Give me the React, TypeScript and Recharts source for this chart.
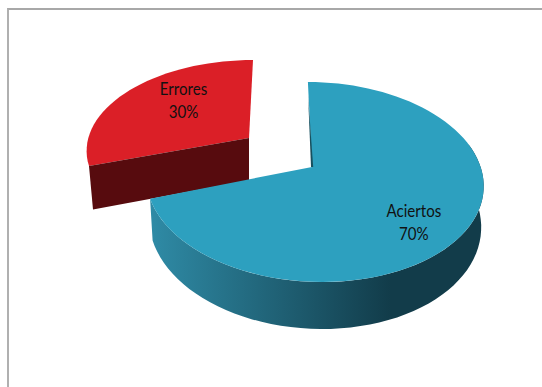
import { PieChart, Pie, Cell } from 'recharts';

const categories = ['Errores', 'Aciertos'];
const values = [30, 70];
const percentLabels = ['30%', '70%'];

const chartData = categories.map((name, i) => ({ name, value: values[i], percent: percentLabels[i] }));

// Per-slice look of the tilted disc. Radii are ratios of the pie's outerRadius.
const sliceStyles: Record<string, any> = {
  Errores: {
    dx: -63, dy: -29, rimDx: 0, rx: 0.945, ry: 0.513, persp: 0.118, skew: -4.5,
    depth: 42.5, depthSlope: 0.07, taper: 0.975,
    top: '#db1f27', wall: '#570b0e', label: [0.55, 0.77],
  },
  Aciertos: {
    dx: 0, dy: 0, rimDx: 2, rx: 0.98, ry: 0.575, persp: 0.15, skew: 7,
    depth: 39.5, depthSlope: 0.19, taper: 0.985,
    top: '#2da0bf', wall: 'url(#wallShade)', label: [0.66, 0.89],
  },
};

// Recharts angle -> point on the squashed rim, with a little perspective on the near side
const rimPoint = (cx: number, cy: number, r: number, st: any, deg: number) => {
  const a = (deg * Math.PI) / 180;
  const u = Math.cos(a);
  const v = -Math.sin(a);
  const s = 1 / (1 - st.persp * v);
  return {
    x: cx + st.dx + st.rimDx + (r * st.rx * u + st.skew * v) * s,
    y: cy + st.dy + r * st.ry * v * s,
    v,
  };
};

const arcPoints = (cx: number, cy: number, r: number, st: any, from: number, to: number) => {
  const steps = Math.max(2, Math.ceil(Math.abs(to - from) / 3));
  const pts = [];
  for (let i = 0; i <= steps; i++) pts.push(rimPoint(cx, cy, r, st, from + ((to - from) * i) / steps));
  return pts;
};

const toPath = (pts: { x: number; y: number }[]) =>
  pts.map((p, i) => `${i ? 'L' : 'M'}${p.x.toFixed(1)},${p.y.toFixed(1)}`).join(' ') + ' Z';

const lowered = (p: { x: number; y: number; v: number }, apexX: number, st: any) => ({
  x: apexX + (p.x - apexX) * st.taper,
  y: p.y + st.depth * (1 + st.depthSlope * p.v),
  v: p.v,
});

const Slice3D = (props: any) => {
  const { cx, cy, outerRadius, startAngle, endAngle, name, payload } = props;
  const st = sliceStyles[name ?? payload?.name];
  const apex = { x: cx + st.dx, y: cy + st.dy, v: 0 };
  const rim = arcPoints(cx, cy, outerRadius, st, startAngle, endAngle);

  if (st === sliceStyles.Errores) {
    // only the straight cut wall shows on this slice
    const first = rim[0];
    const last = rim[rim.length - 1];
    const cut = last.v > first.v ? last : first;
    const wall = [apex, cut, lowered(cut, apex.x, st), lowered(apex, apex.x, st)];
    return (
      <g>
        <path d={toPath([apex, ...rim])} fill={st.top} />
        <path d={toPath(wall)} fill={st.wall} />
      </g>
    );
  }

  // outer wall runs from the left end of the slice round the front to the right side
  const front = arcPoints(cx, cy, outerRadius, st, endAngle, 14);
  const wall = [...front, ...front.map((p) => lowered(p, apex.x + st.rimDx, st)).reverse()];
  const topEdge = rim[0];
  // dark edge of the cut running up from the centre
  const sliver = [
    { x: topEdge.x + 0.2, y: topEdge.y + 14, v: 0 },
    { x: apex.x - 1, y: apex.y, v: 0 },
    { x: apex.x + 1.2, y: apex.y, v: 0 },
  ];
  return (
    <g>
      <path d={toPath(wall)} fill={st.wall} />
      <path d={toPath([apex, ...rim])} fill={st.top} />
      <path d={toPath(sliver)} fill="#17505f" />
    </g>
  );
};

const SliceLabel = (props: any) => {
  const { cx, cy, outerRadius, midAngle, name, payload } = props;
  const st = sliceStyles[name ?? payload?.name];
  const p = rimPoint(cx, cy, outerRadius, st, midAngle);
  const apexX = cx + st.dx;
  const apexY = cy + st.dy;
  const x = apexX + (p.x - apexX) * st.label[0];
  const y = apexY + (p.y - apexY) * st.label[1];
  return (
    <text transform={`translate(${x} 0) scale(0.84 1)`} textAnchor="middle" fill="#111" fontFamily="Lato, sans-serif" fontSize={18}>
      <tspan x={0} y={y - 6}>{name ?? payload?.name}</tspan>
      <tspan x={0} y={y + 17}>{payload?.percent}</tspan>
    </text>
  );
};

export default function App() {
  return (
    <div style={{ position: 'absolute', left: 0, top: 0, width: 542, height: 387, background: '#fff', overflow: 'hidden' }}>
      <div style={{ position: 'absolute', left: 7, top: 8, width: 540, height: 384, borderLeft: '2px solid #b0b0b0', borderTop: '2px solid #a8a8a8', boxSizing: 'border-box' }} />
      <PieChart width={542} height={387} margin={{ top: 0, right: 0, bottom: 0, left: 0 }} style={{ position: 'absolute', left: 0, top: 0 }}>
        <defs>
          <linearGradient id="wallShade" gradientUnits="userSpaceOnUse" x1="150" y1="0" x2="390" y2="0">
            <stop offset="0" stopColor="#2f8ba6" />
            <stop offset="1" stopColor="#123c4a" />
          </linearGradient>
        </defs>
        <Pie
          data={chartData}
          dataKey="value"
          nameKey="name"
          cx={312}
          cy={167}
          innerRadius={0}
          outerRadius={170}
          startAngle={198}
          endAngle={-162}
          stroke="none"
          shape={Slice3D}
          label={SliceLabel}
          labelLine={false}
          isAnimationActive={false}
        >
          {chartData.map((d) => (
            <Cell key={d.name} fill={sliceStyles[d.name].top} />
          ))}
        </Pie>
      </PieChart>
    </div>
  );
}
